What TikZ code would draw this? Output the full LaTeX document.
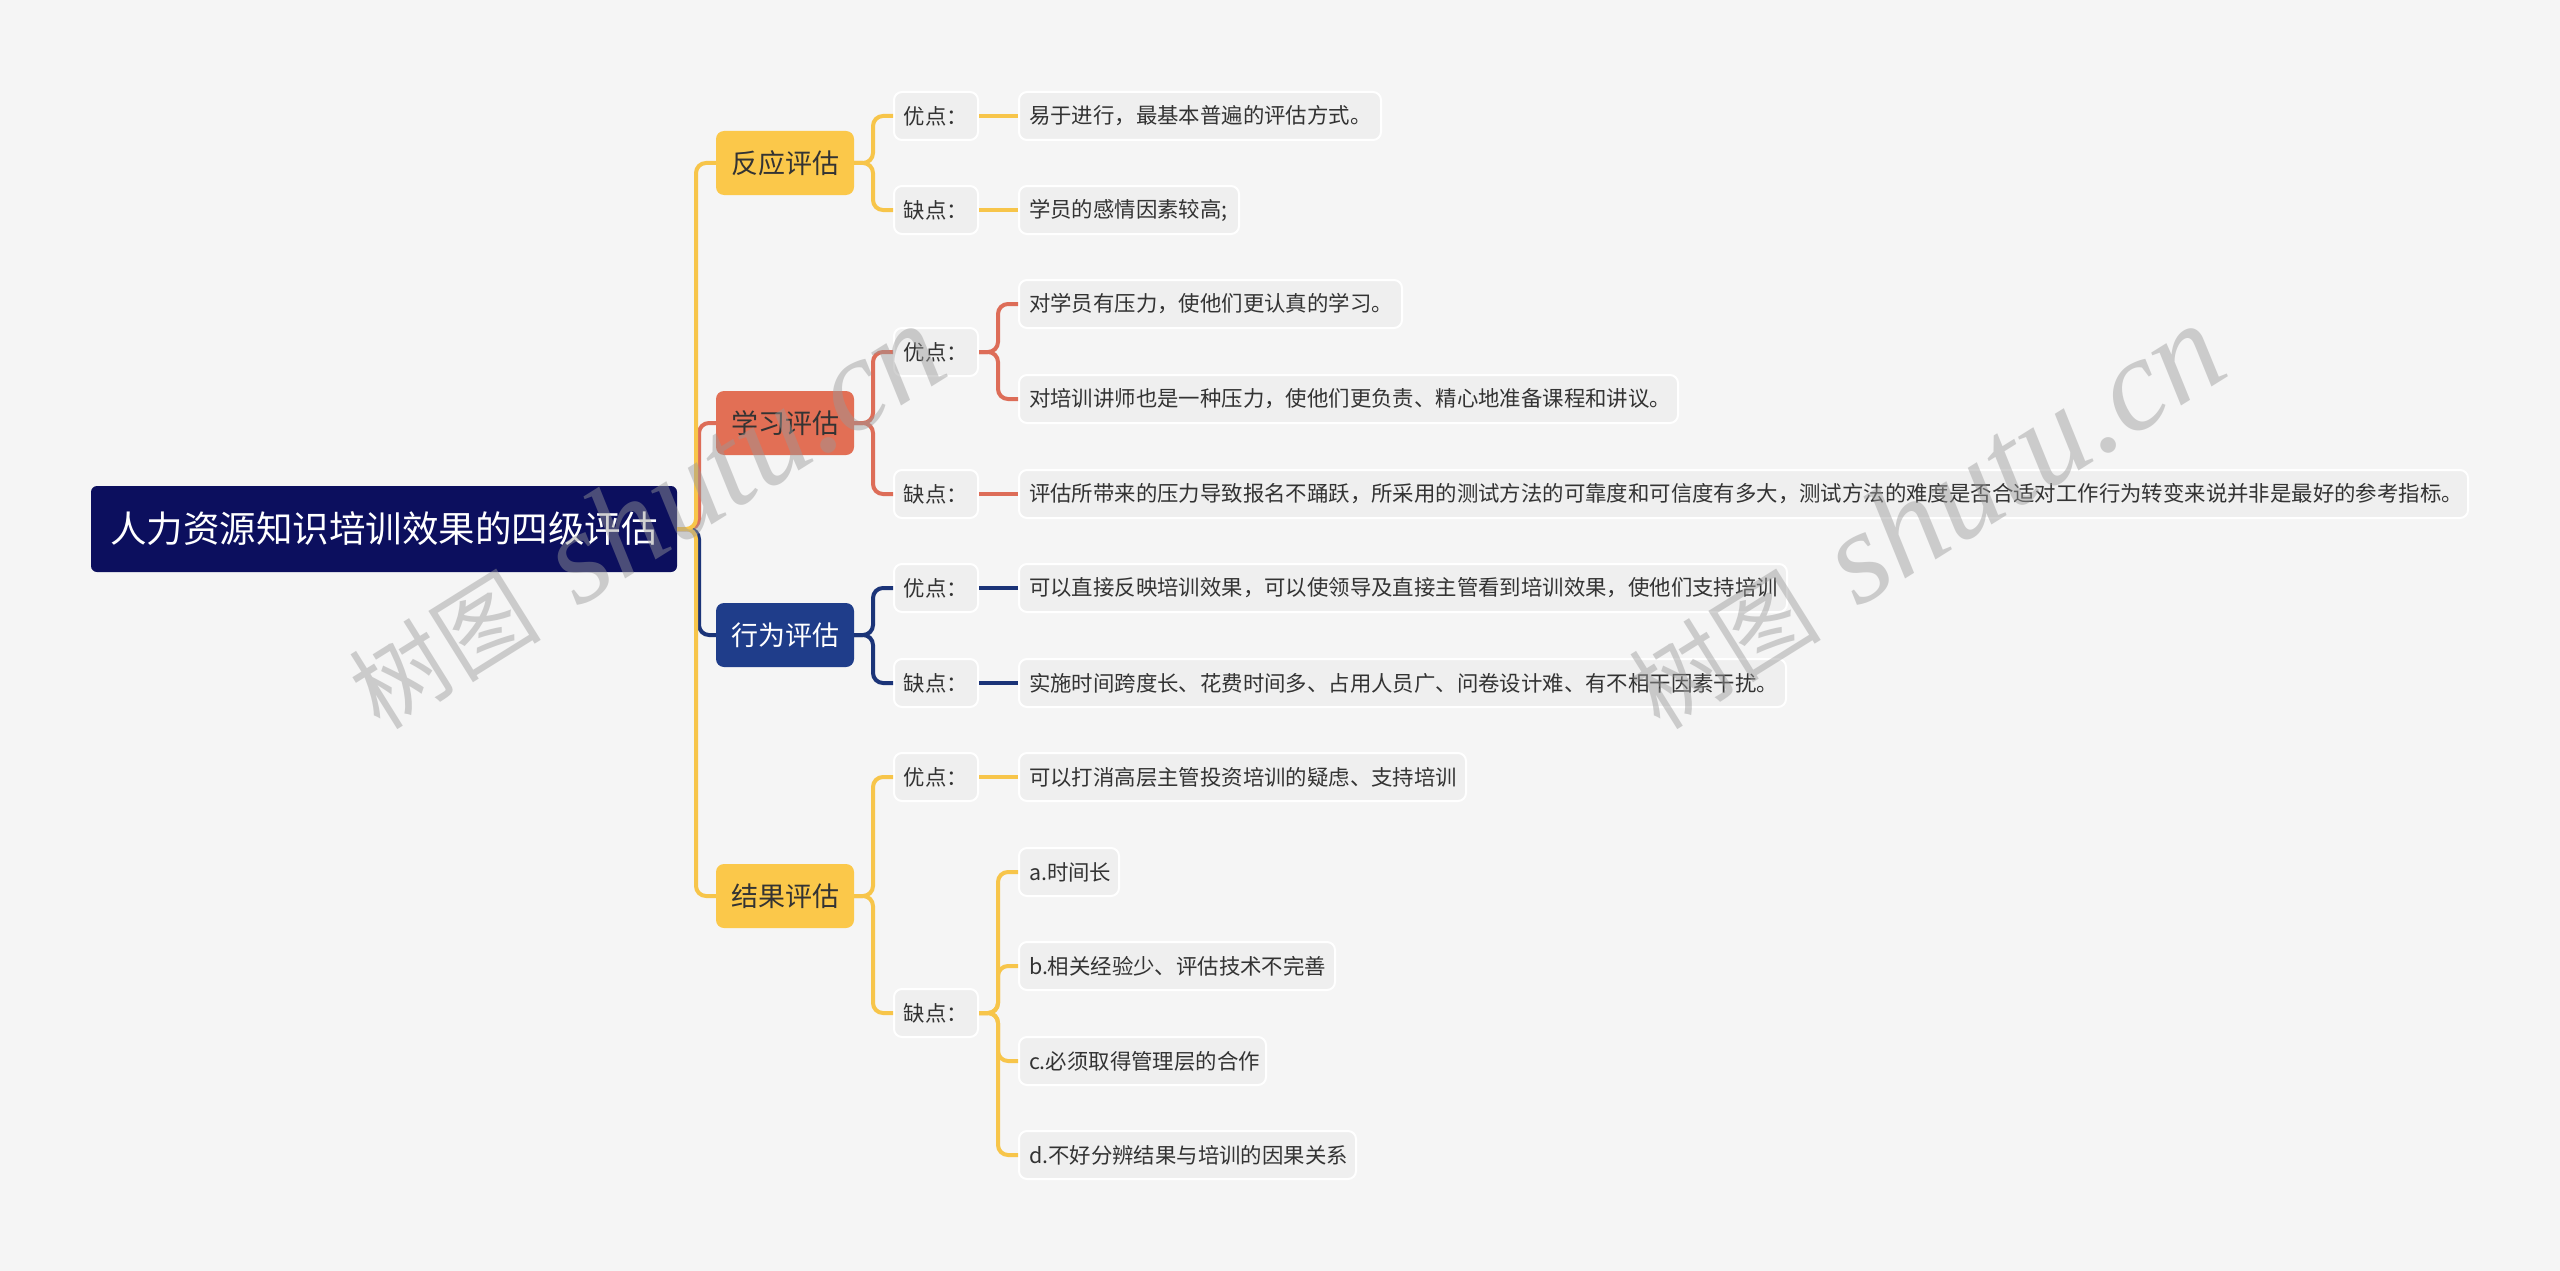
\documentclass[tikz,border=0pt]{standalone}
\usepackage{fontspec}
\setmainfont{Noto Sans CJK SC}
\newfontfamily\wmlatin{Liberation Serif}
\definecolor{bgc}{HTML}{F5F5F5}
\definecolor{rootc}{HTML}{0C0F5E}
\definecolor{yelc}{HTML}{FBC84A}
\definecolor{yell}{HTML}{F7C54A}
\definecolor{redc}{HTML}{E26F55}
\definecolor{redl}{HTML}{DD6D58}
\definecolor{bluc}{HTML}{1F3D8A}
\definecolor{blul}{HTML}{1B3478}
\definecolor{boxc}{HTML}{EFEFEF}
\definecolor{txtc}{HTML}{333333}
\definecolor{wmc}{HTML}{999999}
\newcommand\lbox[2]{\makebox[#1pt][l]{#2}}
\tikzset{
  rootnode/.style={fill=rootc, rounded corners=6pt, minimum width=586pt, minimum height=86pt,
    text=white, font=\fontsize{36.5}{42}\selectfont, inner sep=0pt},
  lone/.style={rounded corners=8pt, minimum width=138pt, minimum height=64pt,
    font=\fontsize{27}{32}\selectfont, inner sep=0pt, text=txtc},
  ltwo/.style={fill=boxc, draw=white, line width=2pt, rounded corners=8pt, minimum height=48pt,
    minimum width=84pt, font=\fontsize{21.4}{26}\selectfont, text=txtc, inner sep=0pt, anchor=west},
  lthree/.style={ltwo, minimum width=0pt, inner xsep=10pt},
  conn/.style={line width=4pt, rounded corners=10pt},
  wm/.style={text=wmc, opacity=0.45, rotate=32, inner sep=0pt},
}
\begin{document}
\begin{tikzpicture}[x=1pt,y=-1pt]
\fill[bgc] (0,0) rectangle (2560,1271);
\useasboundingbox (0,0) rectangle (2560,1271);

% root and level 1
\node[rootnode] (root) at (384,529) {人力资源知识培训效果的四级评估};
\node[lone, fill=yelc] (n1) at (785,163) {反应评估};
\node[lone, fill=redc] (n2) at (785,423) {学习评估};
\node[lone, fill=bluc, text=white] (n3) at (785,635) {行为评估};
\node[lone, fill=yelc] (n4) at (785,896) {结果评估};

% level 2
\node[ltwo] (n1a) at (893,116) {优点：};
\node[ltwo] (n1b) at (893,210) {缺点：};
\node[ltwo] (n2a) at (893,352) {优点：};
\node[ltwo] (n2b) at (893,494) {缺点：};
\node[ltwo] (n3a) at (893,588) {优点：};
\node[ltwo] (n3b) at (893,683) {缺点：};
\node[ltwo] (n4a) at (893,777) {优点：};
\node[ltwo] (n4b) at (893,1013) {缺点：};

% level 3
\node[lthree] (t1a) at (1018,116) {\lbox{342}{易于进行，最基本普遍的评估方式。}};
\node[lthree] (t1b) at (1018,210) {\lbox{200}{学员的感情因素较高;}};
\node[lthree] (t2a1) at (1018,304) {\lbox{363}{对学员有压力，使他们更认真的学习。}};
\node[lthree] (t2a2) at (1018,399) {\lbox{639}{对培训讲师也是一种压力，使他们更负责、精心地准备课程和讲议。}};
\node[lthree] (t2b) at (1018,494) {\lbox{1429}{评估所带来的压力导致报名不踊跃，所采用的测试方法的可靠度和可信度有多大，测试方法的难度是否合适对工作行为转变来说并非是最好的参考指标。}};
\node[lthree] (t3a) at (1018,588) {\lbox{748}{可以直接反映培训效果，可以使领导及直接主管看到培训效果，使他们支持培训}};
\node[lthree] (t3b) at (1018,683) {\lbox{747}{实施时间跨度长、花费时间多、占用人员广、问卷设计难、有不相干因素干扰。}};
\node[lthree] (t4a) at (1018,777) {\lbox{427}{可以打消高层主管投资培训的疑虑、支持培训}};
\node[lthree] (t4b1) at (1018,872) {\lbox{80}{a.时间长}};
\node[lthree] (t4b2) at (1018,966) {\lbox{296}{b.相关经验少、评估技术不完善}};
\node[lthree] (t4b3) at (1018,1061) {\lbox{227}{c.必须取得管理层的合作}};
\node[lthree] (t4b4) at (1018,1155) {\lbox{317}{d.不好分辨结果与培训的因果关系}};

% connectors: root -> level 1
\draw[conn, redl] (root.east) -- (699,529) -- (699,423) -- (n2.west);
\draw[conn, blul] (root.east) -- (699,529) -- (699,635) -- (n3.west);
\draw[conn, yell] (root.east) -- (696,529) -- (696,163) -- (n1.west);
\draw[conn, yell] (root.east) -- (696,529) -- (696,896) -- (n4.west);

% level 1 -> level 2
\draw[conn, yell] (n1.east) -- (873,163) -- (873,116) -- (n1a.west);
\draw[conn, yell] (n1.east) -- (873,163) -- (873,210) -- (n1b.west);
\draw[conn, redl] (n2.east) -- (873,423) -- (873,352) -- (n2a.west);
\draw[conn, redl] (n2.east) -- (873,423) -- (873,494) -- (n2b.west);
\draw[conn, blul] (n3.east) -- (873,635) -- (873,588) -- (n3a.west);
\draw[conn, blul] (n3.east) -- (873,635) -- (873,683) -- (n3b.west);
\draw[conn, yell] (n4.east) -- (873,896) -- (873,777) -- (n4a.west);
\draw[conn, yell] (n4.east) -- (873,896) -- (873,1013) -- (n4b.west);

% level 2 -> level 3
\draw[conn, yell] (n1a.east) -- (t1a.west);
\draw[conn, yell] (n1b.east) -- (t1b.west);
\draw[conn, redl] (n2a.east) -- (998,352) -- (998,304) -- (t2a1.west);
\draw[conn, redl] (n2a.east) -- (998,352) -- (998,399) -- (t2a2.west);
\draw[conn, redl] (n2b.east) -- (t2b.west);
\draw[conn, blul] (n3a.east) -- (t3a.west);
\draw[conn, blul] (n3b.east) -- (t3b.west);
\draw[conn, yell] (n4a.east) -- (t4a.west);
\draw[conn, yell] (n4b.east) -- (998,1013) -- (998,872) -- (t4b1.west);
\draw[conn, yell] (n4b.east) -- (998,1013) -- (998,966) -- (t4b2.west);
\draw[conn, yell] (n4b.east) -- (998,1013) -- (998,1061) -- (t4b3.west);
\draw[conn, yell] (n4b.east) -- (998,1013) -- (998,1155) -- (t4b4.west);

% watermarks
\node[wm] (wm1) at (645,517) {\fontsize{96}{98}\selectfont 树图\hspace{40pt}{\wmlatin\itshape\fontsize{132}{132}\selectfont shutu.cn}};
\node[wm] (wm2) at (1925,517) {\fontsize{96}{98}\selectfont 树图\hspace{40pt}{\wmlatin\itshape\fontsize{132}{132}\selectfont shutu.cn}};
\end{tikzpicture}
\end{document}
